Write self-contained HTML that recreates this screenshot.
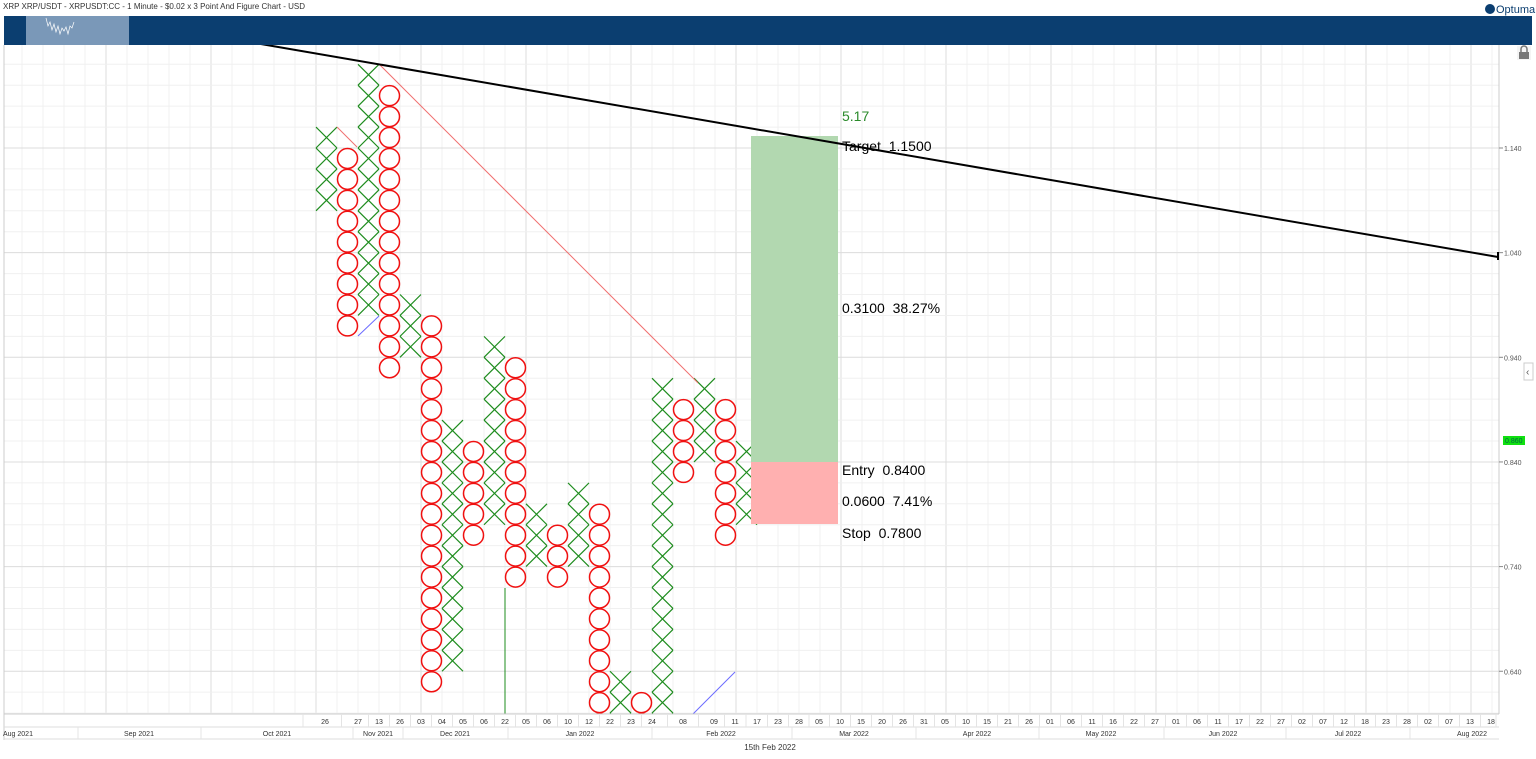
<!DOCTYPE html>
<html><head><meta charset="utf-8"><style>
body{margin:0;background:#fff;width:1536px;height:759px;overflow:hidden;font-family:"Liberation Sans",sans-serif}
svg{position:absolute;left:0;top:0}
</style></head><body>
<svg id="s" width="1536" height="759" xmlns="http://www.w3.org/2000/svg" font-family="Liberation Sans, sans-serif"></svg>
<script>
const s=document.getElementById('s');let h='';
const Y=p=>148+(1.14-p)*1046.5;
// gridlines
for(let x=316-21*14;x<1499;x+=21){if(x<4)continue;const maj=((x-316)%105===0);h+=`<line x1="${x}" y1="45" x2="${x}" y2="714" stroke="${maj?'#dcdcdc':'#f0f0f0'}" stroke-width="1"/>`;}
for(let p=0.60;p<1.26;p+=0.02){const y=Y(p);if(y<45||y>714)continue;const maj=Math.abs(Math.round(p*100)%10-4)<0.5;h+=`<line x1="4" y1="${y}" x2="1499" y2="${y}" stroke="${maj?'#dcdcdc':'#f0f0f0'}"/>`;}
h+=`<line x1="1499" y1="45" x2="1499" y2="714" stroke="#ccc"/>`;
h+=`<line x1="4" y1="45" x2="4" y2="740" stroke="#ccc"/>`;
// boxes
const cols=[['X',1.08,1.16],['O',0.96,1.14],['X',0.98,1.22],['O',0.92,1.20],['X',0.94,1.00],['O',0.62,0.98],['X',0.64,0.88],['O',0.76,0.86],['X',0.78,0.96],['O',0.72,0.94],['X',0.74,0.80],['O',0.72,0.78],['X',0.74,0.82],['O',0.56,0.80],['X',0.58,0.64],['O',0.58,0.62],['X',0.58,0.92],['O',0.82,0.90],['X',0.84,0.92],['O',0.76,0.90],['X',0.78,0.86]];
h+='<g clip-path="url(#c)"><clipPath id="c"><rect x="4" y="45" width="1495" height="669"/></clipPath>';
cols.forEach((c,i)=>{const x0=316+21*i;for(let p=c[1];p<c[2]-0.001;p+=0.02){const yt=Y(p+0.02),yb=Y(p);
if(c[0]=='X'){h+=`<path d="M${x0} ${yt}L${x0+21} ${yb}M${x0+21} ${yt}L${x0} ${yb}" stroke="#1e8c1e" stroke-width="1.2" fill="none"/>`;}
else{h+=`<circle cx="${x0+10.5}" cy="${(yt+yb)/2}" r="10" stroke="#f01010" stroke-width="1.5" fill="none"/>`;}}});
h+='</g>';
// trend lines
h+=`<line x1="337" y1="127" x2="357" y2="147" stroke="#f07070" stroke-width="1"/>`;
h+=`<line x1="379" y1="64" x2="698" y2="383" stroke="#f07070" stroke-width="1"/>`;
h+=`<line x1="358" y1="336" x2="379" y2="316" stroke="#6a6aff" stroke-width="1"/>`;
h+=`<line x1="693" y1="714" x2="735" y2="672" stroke="#6a6aff" stroke-width="1"/>`;
h+=`<line x1="505" y1="588" x2="505" y2="714" stroke="#1e8c1e" stroke-width="1"/>`;
// target/stop boxes
h+=`<rect x="751" y="136" width="87" height="326" fill="#b2d8b0"/><rect x="751" y="462" width="87" height="62" fill="#ffb0b0"/>`;
h+=`<line x1="255" y1="43" x2="1498" y2="257" stroke="#000" stroke-width="2"/><line x1="1498" y1="252" x2="1498" y2="260" stroke="#000" stroke-width="2"/>`;
const T=(x,y,t,c='#000',sz=14)=>h+=`<text x="${x}" y="${y}" font-size="${sz}" fill="${c}">${t}</text>`;
T(842,121,'5.17','#2a8a2a');T(842,151,'Target&#160;&#160;1.1500');T(842,313,'0.3100&#160;&#160;38.27%');T(842,475,'Entry&#160;&#160;0.8400');T(842,506,'0.0600&#160;&#160;7.41%');T(842,538,'Stop&#160;&#160;0.7800');
// right axis
[[1.14],[1.04],[0.94],[0.84],[0.74],[0.64]].forEach(([p])=>{const y=Y(p);h+=`<line x1="1499" y1="${y}" x2="1503" y2="${y}" stroke="#888"/>`;T(1504,y+3,p.toFixed(3),'#555',7);});
h+=`<rect x="1503" y="436" width="22" height="9" fill="#10e010"/>`;T(1505,443,'0.860','#064',7);
h+=`<rect x="1517" y="46" width="14" height="14" fill="#f4f4f4"/><rect x="1519" y="52" width="10" height="7" fill="#777"/><path d="M1521 52v-3a3 3 0 0 1 6 0v3" stroke="#777" stroke-width="1.5" fill="none"/>`;
h+=`<rect x="1524" y="363" width="9" height="17" fill="#fff" stroke="#ccc"/>`;T(1526,375,'‹','#555',10);
// header
T(3,9,'XRP XRP/USDT - XRPUSDT:CC - 1 Minute - $0.02 x 3 Point And Figure Chart - USD','#333',8);
h+=`<rect x="4" y="16" width="1528" height="29" fill="#0b3e70"/><rect x="26" y="16" width="103" height="29" fill="#7a98b8"/>`;
h+=`<polyline points="46,18 48,26 50,22 52,30 54,24 56,32 58,26 60,34 62,28 64,31 66,27 68,34 70,26 72,28 74,22" stroke="#fff" stroke-width="0.7" fill="none"/>`;
h+=`<circle cx="1490" cy="9" r="5" fill="#0b3e70"/>`;T(1496,13,'Optuma','#0b3e70',11);
// bottom axis
h+=`<line x1="4" y1="714" x2="1499" y2="714" stroke="#ccc"/><line x1="4" y1="727" x2="1499" y2="727" stroke="#ddd"/><line x1="4" y1="739" x2="1499" y2="739" stroke="#ddd"/>`;
const days=[[325,'26'],[358,'27'],[379,'13'],[400,'26'],[421,'03'],[442,'04'],[463,'05'],[484,'06'],[505,'22'],[526,'05'],[547,'06'],[568,'10'],[589,'12'],[610,'22'],[631,'23'],[652,'24'],[683,'08'],[714,'09'],[735,'11'],[757,'17'],[778,'23'],[799,'28'],[819,'05'],[840,'10'],[861,'15'],[882,'20'],[903,'26'],[924,'31'],[945,'05'],[966,'10'],[987,'15'],[1008,'21'],[1029,'26'],[1050,'01'],[1071,'06'],[1092,'11'],[1113,'16'],[1134,'22'],[1155,'27'],[1176,'01'],[1197,'06'],[1218,'11'],[1239,'17'],[1260,'22'],[1281,'27'],[1302,'02'],[1323,'07'],[1344,'12'],[1365,'18'],[1386,'23'],[1407,'28'],[1428,'02'],[1449,'07'],[1470,'13'],[1491,'18']];
days.forEach(([x,t],i)=>{h+=`<text x="${x}" y="724" font-size="7" fill="#333" text-anchor="middle">${t}</text>`;const nx=i<days.length-1?days[i+1][0]:1501;h+=`<line x1="${(x+nx)/2}" y1="714" x2="${(x+nx)/2}" y2="727" stroke="#e4e4e4"/>`;});
h+=`<line x1="303" y1="714" x2="303" y2="727" stroke="#e4e4e4"/>`;
const mons=[[18,'Aug 2021'],[139,'Sep 2021'],[277,'Oct 2021'],[378,'Nov 2021'],[455,'Dec 2021'],[580,'Jan 2022'],[721,'Feb 2022'],[854,'Mar 2022'],[977,'Apr 2022'],[1101,'May 2022'],[1223,'Jun 2022'],[1348,'Jul 2022'],[1472,'Aug 2022']];
mons.forEach(([x,t])=>h+=`<text x="${x}" y="736" font-size="7" fill="#333" text-anchor="middle">${t}</text>`);
[78,201,353,403,508,652,792,916,1039,1164,1286,1410].forEach(x=>h+=`<line x1="${x}" y1="727" x2="${x}" y2="739" stroke="#e4e4e4"/>`);
h+=`<text x="770" y="750" font-size="8" fill="#333" text-anchor="middle">15th Feb 2022</text>`;
s.innerHTML=h;
</script>
</body></html>
